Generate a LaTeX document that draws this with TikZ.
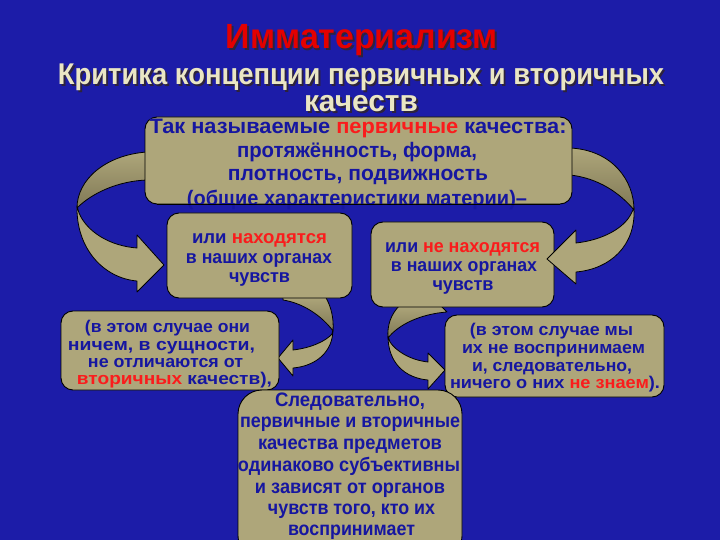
\documentclass[tikz,border=0pt]{standalone}
\usepackage{fontspec}
\setmainfont{Liberation Sans}
\usepackage{graphicx}
\definecolor{bg}{RGB}{28,28,168}
\definecolor{khaki}{RGB}{174,166,122}
\definecolor{khakidark}{RGB}{128,121,86}
\definecolor{txtblue}{RGB}{22,22,160}
\definecolor{txtred}{RGB}{250,28,28}
\definecolor{cream}{RGB}{234,230,196}
\definecolor{shad}{RGB}{45,35,60}
\definecolor{titlered}{RGB}{228,0,0}
\newcommand\fitw[2]{\resizebox{#1}{\height}{#2}}
\newcommand\rd[1]{\textcolor{txtred}{#1}}
\newcommand\shtext[3]{\makebox[0pt][l]{\hspace*{2pt}\raisebox{-2pt}{\textcolor{shad}{#3}}}\textcolor{#2}{#3}}
\tikzset{
  box/.style={fill=khaki, draw=black, line width=0.9pt, rounded corners=12pt, inner sep=0pt},
  btext/.style={text=txtblue, inner sep=0pt, anchor=base},
  ttext/.style={inner sep=0pt, anchor=base},
  arrfront/.style={fill=khaki, draw=black, line width=0.8pt, line join=round},
  arrback/.style={top color=khaki, bottom color=khakidark, draw=black, line width=0.8pt, line join=round},
}
\begin{document}
\begin{tikzpicture}[x=1pt,y=-1pt]
\useasboundingbox (0,0) rectangle (720,540);
\fill[bg] (0,0) rectangle (720,540);

% titles (with shadow)
\node[ttext, font=\fontsize{35}{38}\selectfont\bfseries] (title) at (362,49) {\fitw{272pt}{\shtext{}{titlered}{Имматериализм}}};
\node[ttext, font=\fontsize{30}{33}\selectfont\bfseries] (sub1) at (361,85) {\fitw{606pt}{\shtext{}{cream}{Критика концепции первичных и вторичных}}};
\node[ttext, font=\fontsize{30}{33}\selectfont\bfseries] (sub2) at (361,112) {\fitw{114pt}{\shtext{}{cream}{качеств}}};

% small arrows (under boxes 2 and 3)
\path[arrback] (283,296) -- (325,296) .. controls (331,306) and (334,318) .. (333,331) .. controls (322,316) and (303,303) .. (283,300) -- cycle;
\path[arrfront] (333,329) .. controls (333,352) and (316,366) .. (293,368) -- (293,376) -- (278,358) -- (293,340) -- (293,350) .. controls (311,348) and (326,341) .. (332,334) -- cycle;
\path[arrback] (440,305) -- (400,305) .. controls (391,314) and (387,325) .. (388,338) .. controls (398,325) and (420,314) .. (447,312) -- cycle;
\path[arrfront] (388,336) .. controls (388,363) and (405,378) .. (428,380) -- (428,389) -- (445,370) -- (428,353) -- (428,362) .. controls (410,360) and (396,351) .. (390,342) -- cycle;

% boxes 2,3
\node[box, minimum width=185pt, minimum height=85pt] (b2) at (259.5,255.5) {};
\node[box, minimum width=183pt, minimum height=85pt] (b3) at (462.5,264.5) {};

% big arrows
\path[arrback] (147,152) .. controls (105,155) and (77,180) .. (77,208) .. controls (92,193) and (118,181) .. (147,180) -- cycle;
\path[arrfront] (77,206) .. controls (76,248) and (103,278) .. (137,281) -- (137,292) -- (164,265) -- (137,235) -- (137,248) .. controls (110,246) and (87,232) .. (79,213) -- cycle;
\path[arrback] (570,148) .. controls (612,150) and (634,180) .. (634,210) .. controls (620,193) and (598,178) .. (570,175) -- cycle;
\path[arrfront] (634,208) .. controls (636,246) and (610,269) .. (576,272) -- (576,284) -- (547,259) -- (576,230) -- (576,243) .. controls (603,240) and (624,228) .. (631,214) -- cycle;

% other boxes
\node[box, minimum width=427pt, minimum height=87pt] (b1) at (358.5,160.5) {};
\node[box, minimum width=218pt, minimum height=79pt] (b4) at (170,350.5) {};
\node[box, minimum width=219pt, minimum height=82pt] (b5) at (554.5,356) {};
\node[box, rounded corners=24pt, minimum width=224pt, minimum height=170pt] (b6) at (350,475) {};

% box 1 text
\begin{scope}[every node/.append style={font=\fontsize{21}{24}\selectfont\bfseries}]
\node[btext] (t1a) at (358,134) {\fitw{417pt}{Так называемые \rd{первичные} качества:}};
\node[btext] (t1b) at (357,158) {\fitw{240pt}{протяжённость, форма,}};
\node[btext] (t1c) at (358,181) {\fitw{260pt}{плотность, подвижность}};
\node[btext] (t1d) at (357,206) {\fitw{340pt}{(общие характеристики материи)–}};
\end{scope}

% box 2,3 text
\begin{scope}[every node/.append style={font=\fontsize{18.5}{21}\selectfont\bfseries}]
\node[btext] (t2a) at (259.5,243) {\fitw{135pt}{или \rd{находятся}}};
\node[btext] (t2b) at (259,263) {\fitw{146pt}{в наших органах}};
\node[btext] (t2c) at (259.5,282) {\fitw{61pt}{чувств}};
\node[btext] (t3a) at (462.5,252) {\fitw{155pt}{или \rd{не находятся}}};
\node[btext] (t3b) at (464,271) {\fitw{146pt}{в наших органах}};
\node[btext] (t3c) at (463,290) {\fitw{61pt}{чувств}};
\end{scope}

% box 4,5 text
\begin{scope}[every node/.append style={font=\fontsize{17}{19}\selectfont\bfseries}]
\node[btext] (t4a) at (167.5,332) {\fitw{165pt}{(в этом случае они}};
\node[btext] (t4b) at (161.5,350) {\fitw{187pt}{ничем, в сущности,}};
\node[btext] (t4c) at (165.5,367) {\fitw{155pt}{не отличаются от}};
\node[btext] (t4d) at (174.5,384) {\fitw{195pt}{\rd{вторичных} качеств),}};
\node[btext] (t5a) at (551.5,335) {\fitw{163pt}{(в этом случае мы}};
\node[btext] (t5b) at (553.5,353) {\fitw{183pt}{их не воспринимаем}};
\node[btext] (t5c) at (552,371) {\fitw{160pt}{и, следовательно,}};
\node[btext] (t5d) at (555,388) {\fitw{210pt}{ничего о них \rd{не знаем}).}};
\end{scope}

% box 6 text
\begin{scope}[every node/.append style={font=\fontsize{19.5}{22}\selectfont\bfseries}]
\node[btext] (t6a) at (350,406) {\fitw{150pt}{Следовательно,}};
\node[btext] (t6b) at (350,427) {\fitw{220pt}{первичные и вторичные}};
\node[btext] (t6c) at (350,449) {\fitw{184pt}{качества предметов}};
\node[btext] (t6d) at (349,471) {\fitw{222pt}{одинаково субъективны}};
\node[btext] (t6e) at (350,493) {\fitw{190pt}{и зависят от органов}};
\node[btext] (t6f) at (351.5,514) {\fitw{167pt}{чувств того, кто их}};
\node[btext] (t6g) at (351.5,535) {\fitw{127pt}{воспринимает}};
\end{scope}

% redraw lower border of box 1 over its last line
\draw[black, line width=0.9pt] ([xshift=12pt]b1.south west) -- ([xshift=-12pt]b1.south east);
\end{tikzpicture}
\end{document}
